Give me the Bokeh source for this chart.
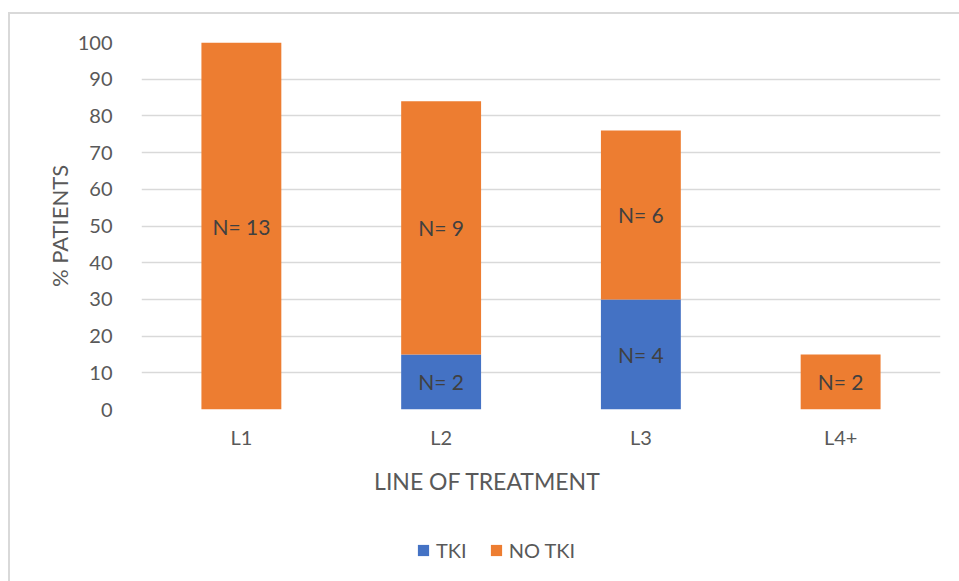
from bokeh.plotting import figure
from bokeh.layouts import column
from bokeh.models import ColumnDataSource, Legend, LegendItem, SingleIntervalTicker, Label
from bokeh.core.properties import value
from bokeh.embed import file_html
from bokeh.resources import INLINE

# Share of patients by line of treatment, split by TKI use
categories = ["L1", "L2", "L3", "L4+"]
tki = [0, 15, 30, 0]
no_tki = [100, 69, 46, 15]
n_tki = [0, 2, 4, 0]
n_no_tki = [13, 9, 6, 2]

FONT = "Lato"
BLUE = "#4472C4"
ORANGE = "#ED7D31"
GREY = "#595959"

no_tki_top = [a + b for a, b in zip(tki, no_tki)]
src = ColumnDataSource(dict(
    cat=categories, tki=tki, no_tki=no_tki, zero=[0] * len(categories),
    no_tki_top=no_tki_top,
))

p = figure(
    x_range=categories, y_range=(0, 100),
    width=949, height=446,
    output_backend="svg", toolbar_location=None,
    min_border_left=131, min_border_right=19,
    min_border_top=28, min_border_bottom=51,
)
p.outline_line_color = None
p.background_fill_color = "white"
p.border_fill_color = "white"

r_tki = p.vbar(x="cat", bottom="zero", top="tki", width=0.4, source=src,
               fill_color=BLUE, line_color=None)
r_no = p.vbar(x="cat", bottom="tki", top="no_tki_top", width=0.4, source=src,
              fill_color=ORANGE, line_color=None)

# count labels centred in each non-empty segment
lx, ly, lt = [], [], []
for c, a, b, na, nb in zip(categories, tki, no_tki, n_tki, n_no_tki):
    if na > 0:
        lx.append(c); ly.append(a / 2); lt.append(f"N= {na}")
    if nb > 0:
        lx.append(c); ly.append(a + b / 2); lt.append(f"N= {nb}")
p.text(x=lx, y=ly, text=lt, text_align="center", text_baseline="middle",
       text_font=value(FONT), text_font_size="21px", text_color="#404040")

# axes
p.yaxis.ticker = SingleIntervalTicker(interval=10)
p.yaxis.axis_line_color = None
p.yaxis.major_tick_line_color = None
p.yaxis.minor_tick_line_color = None
p.yaxis.major_label_text_font = FONT
p.yaxis.major_label_text_font_size = "20px"
p.yaxis.major_label_text_color = GREY
p.yaxis.major_label_standoff = 23
p.yaxis.axis_label = "% PATIENTS"
p.yaxis.axis_label_text_font = FONT
p.yaxis.axis_label_text_font_size = "22px"
p.yaxis.axis_label_text_font_style = "normal"
p.yaxis.axis_label_text_color = GREY
p.yaxis.axis_label_standoff = 2

p.xaxis.axis_line_color = None
p.xaxis.major_tick_line_color = None
p.xaxis.minor_tick_line_color = None
p.xaxis.major_label_text_font = FONT
p.xaxis.major_label_text_font_size = "20px"
p.xaxis.major_label_text_color = GREY
p.xaxis.major_label_standoff = 9

p.xgrid.grid_line_color = None
p.ygrid.grid_line_color = "#d9d9d9"
p.ygrid.grid_line_width = 1.5

# strip under the chart: x-axis title and legend; its bars sit outside the visible y range
leg = figure(width=949, height=121, output_backend="svg", toolbar_location=None,
             x_range=categories, y_range=(1000, 1001),
             min_border_left=0, min_border_right=0, min_border_top=0, min_border_bottom=0)
leg.axis.visible = False
leg.grid.visible = False
leg.outline_line_color = None
lr_tki = leg.vbar(x="cat", bottom="zero", top="tki", width=0.4, source=src,
                  fill_color=BLUE, line_color=None)
lr_no = leg.vbar(x="cat", bottom="tki", top="no_tki_top", width=0.4, source=src,
                 fill_color=ORANGE, line_color=None)

leg.add_layout(Label(x=346, y=101, x_units="screen", y_units="screen",
                     text="LINE OF TREATMENT", text_align="center", text_baseline="middle",
                     text_font=FONT, text_font_size="23px", text_color=GREY))

legend = Legend(
    items=[LegendItem(label="TKI", renderers=[lr_tki]),
           LegendItem(label="NO TKI", renderers=[lr_no])],
    orientation="horizontal", location=(275, 19),
    label_text_font=FONT, label_text_font_size="20px", label_text_color=GREY,
    glyph_width=14, glyph_height=14, spacing=22, label_standoff=6, padding=4,
    border_line_color=None, background_fill_alpha=0,
)
leg.add_layout(legend, "center")

layout = column(p, leg, spacing=0, margin=(12, 0, 0, 8),
                styles={"border-left": "2px solid #d9d9d9", "border-top": "2px solid #d9d9d9"})

open("out.html", "w").write(file_html(layout, INLINE))
